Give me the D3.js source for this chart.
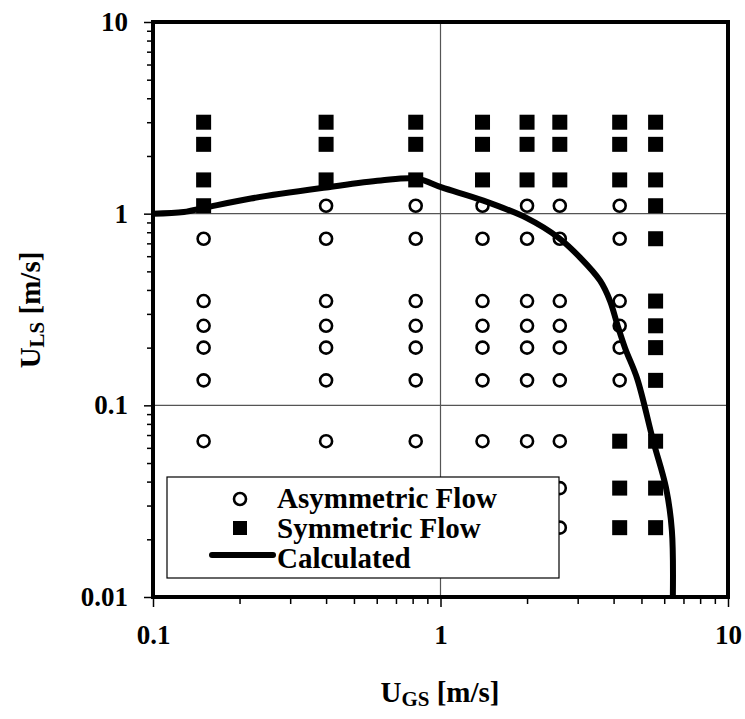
<!DOCTYPE html>
<html>
<head>
<meta charset="utf-8">
<script src="https://cdn.jsdelivr.net/npm/d3@7"></script>
<style>
  body { margin: 0; background: #fff; }
  text { font-family: 'Liberation Serif', 'Times New Roman', serif; font-weight: bold; }
</style>
</head>
<body>
<svg width="745" height="719"></svg>
<script>
// superficial gas velocity columns [m/s]
const ugs = [0.15, 0.4, 0.82, 1.4, 2.0, 2.6, 4.2, 5.6]
// superficial liquid velocity rows [m/s]
const uls = [3.0, 2.3, 1.5, 1.1, 0.74, 0.35, 0.26, 0.2, 0.135, 0.065, 0.037, 0.023]
// observed pattern per column, one letter per row: S symmetric, A asymmetric, - none
const pattern = [
  'SSSSAAAAAA--',
  'SSSAAAAAAA--',
  'SSSAAAAAAA--',
  'SSSAAAAAAA--',
  'SSSAAAAAAA--',
  'SSSAAAAAAAAA',
  'SSSAAAAAASSS',
  'SSSSSSSSSSSS'
]
// calculated transition boundary
const calcX = [0.1, 0.128, 0.152, 0.219, 0.4, 0.62, 0.83, 1.01, 1.41, 1.99, 2.57, 3.06, 3.59, 3.89, 4.12, 4.39, 4.83, 5.49, 6.09, 6.38, 6.43]
const calcY = [1.0, 1.02, 1.075, 1.2, 1.37, 1.49, 1.52, 1.37, 1.17, 0.95, 0.75, 0.59, 0.447, 0.35, 0.264, 0.198, 0.138, 0.0654, 0.037, 0.0222, 0.01]

const xTicks = [0.1, 1, 10]
const yTicks = [0.01, 0.1, 1, 10]

const svg = d3.select('svg')
const margin = { left: 153, top: 22 },
  w = 575,
  h = 575

const x = d3.scaleLog().domain([0.1, 10]).range([0, w])
const y = d3.scaleLog().domain([0.01, 10]).range([h, 0])

const g = svg.append('g').attr('transform', `translate(${margin.left},${margin.top})`)

// grid at decades
g.append('g')
  .selectAll('line.gx')
  .data([1])
  .enter()
  .append('line')
  .attr('x1', d => x(d))
  .attr('x2', d => x(d))
  .attr('y1', 0)
  .attr('y2', h)
  .attr('stroke', '#555')
  .attr('stroke-width', 1.2)
g.append('g')
  .selectAll('line.gy')
  .data([0.1, 1])
  .enter()
  .append('line')
  .attr('x1', 0)
  .attr('x2', w)
  .attr('y1', d => y(d))
  .attr('y2', d => y(d))
  .attr('stroke', '#555')
  .attr('stroke-width', 1.2)

// minor ticks
const minors = domain => {
  const out = []
  for (let p = Math.log10(domain[0]); p < Math.log10(domain[1]); p++)
    for (let k = 2; k <= 9; k++) out.push(k * Math.pow(10, p))
  return out
}

const xAxis = g.append('g').attr('transform', `translate(0,${h})`)
xAxis.call(d3.axisBottom(x).tickValues(minors(x.domain())).tickSize(7).tickFormat(''))
xAxis.append('g').call(d3.axisBottom(x).tickValues(xTicks).tickSize(10).tickPadding(18).tickFormat(d3.format('')))
const yAxis = g.append('g')
yAxis.call(d3.axisLeft(y).tickValues(minors(y.domain())).tickSize(6).tickFormat(''))
yAxis.append('g').call(d3.axisLeft(y).tickValues(yTicks).tickSize(9).tickPadding(16).tickFormat(d3.format('')))
svg.selectAll('.domain').remove()
svg.selectAll('.tick line').attr('stroke', '#000').attr('stroke-width', 1.5)
svg.selectAll('.tick text').attr('font-size', 27).attr('fill', '#000')
xAxis.selectAll('.tick text').attr('dy', '0.71em')

// points
const pts = []
ugs.forEach((u, i) => {
  uls.forEach((v, j) => {
    const t = pattern[i][j]
    if (t !== '-') pts.push({ x: u, y: v, t })
  })
})

g.append('g')
  .selectAll('circle')
  .data(pts.filter(d => d.t === 'A'))
  .enter()
  .append('circle')
  .attr('cx', d => x(d.x))
  .attr('cy', d => y(d.y))
  .attr('r', 6)
  .attr('fill', '#fff')
  .attr('stroke', '#000')
  .attr('stroke-width', 2.6)

const sq = 15
g.append('g')
  .selectAll('rect')
  .data(pts.filter(d => d.t === 'S'))
  .enter()
  .append('rect')
  .attr('x', d => x(d.x) - sq / 2)
  .attr('y', d => y(d.y) - sq / 2)
  .attr('width', sq)
  .attr('height', sq)
  .attr('fill', '#000')

// calculated curve
const line = d3
  .line()
  .x(d => x(d[0]))
  .y(d => y(d[1]))
  .curve(d3.curveCatmullRom)
g.append('path')
  .datum(calcX.map((v, i) => [v, calcY[i]]))
  .attr('d', line)
  .attr('fill', 'none')
  .attr('stroke', '#000')
  .attr('stroke-width', 6)
  .attr('stroke-linejoin', 'round')

// legend
const lg = svg.append('g').attr('transform', 'translate(167,477)')
lg.append('rect')
  .attr('width', 392)
  .attr('height', 101)
  .attr('fill', '#fff')
  .attr('stroke', '#000')
  .attr('stroke-width', 1.2)
const legendItems = ['Asymmetric Flow', 'Symmetric Flow', 'Calculated']
lg.append('circle').attr('cx', 73).attr('cy', 22).attr('r', 6).attr('fill', '#fff').attr('stroke', '#000').attr('stroke-width', 2.6)
lg.append('rect').attr('x', 66).attr('y', 44).attr('width', 14).attr('height', 14).attr('fill', '#000')
lg.append('line').attr('x1', 45).attr('x2', 106).attr('y1', 78).attr('y2', 78).attr('stroke', '#000').attr('stroke-width', 6).attr('stroke-linecap', 'round')
lg.selectAll('text.item')
  .data(legendItems)
  .enter()
  .append('text')
  .attr('x', 110)
  .attr('y', (d, i) => 31 + i * 30)
  .attr('font-size', 29)
  .text(d => d)

// frame
g.append('rect')
  .attr('width', w)
  .attr('height', h)
  .attr('fill', 'none')
  .attr('stroke', '#000')
  .attr('stroke-width', 4)

// axis titles
const xt = svg.append('text').attr('x', 440).attr('y', 702).attr('text-anchor', 'middle').attr('font-size', 29)
xt.append('tspan').text('U')
xt.append('tspan').attr('font-size', 21).attr('dy', 4).text('GS')
xt.append('tspan').attr('dy', -4).text(' [m/s]')

const yt = svg.append('text').attr('transform', 'translate(40,310) rotate(-90)').attr('text-anchor', 'middle').attr('font-size', 29)
yt.append('tspan').text('U')
yt.append('tspan').attr('font-size', 21).attr('dy', 4).text('LS')
yt.append('tspan').attr('dy', -4).text(' [m/s]')
</script>
</body>
</html>
